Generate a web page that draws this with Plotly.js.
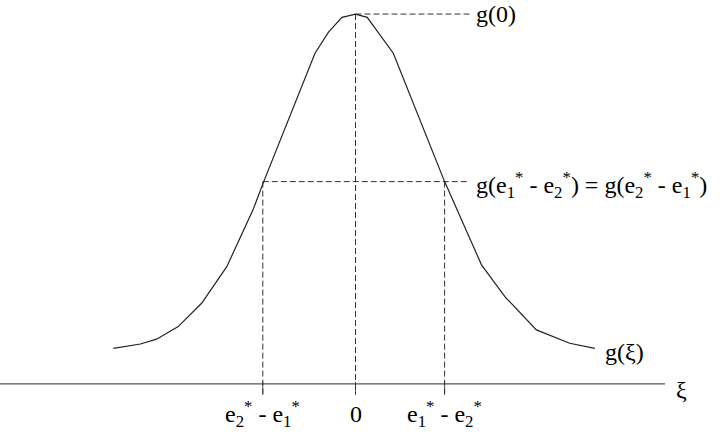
<!DOCTYPE html>
<html>
<head>
<meta charset="utf-8">
<script src="https://cdn.plot.ly/plotly-3.0.1.min.js"></script>
<style>html,body{margin:0;padding:0;background:#fff;}#chart{width:720px;height:442px;}</style>
</head>
<body>
<div id="chart"></div>
<script>
// Curve g(xi) vertices (xi in units of e1*-e2*, g scaled so g(0)=1)
var xi = [-2.69, -2.39, -2.21, -1.97, -1.71, -1.43, -1.14, -1.02, -0.45, -0.30, -0.15, 0.00, 0.13, 0.25, 0.42, 0.99, 1.40, 1.66, 2.01, 2.38, 2.66];
var g  = [0.096, 0.108, 0.121, 0.155, 0.218, 0.317, 0.470, 0.547, 0.894, 0.951, 0.991, 1.000, 0.991, 0.952, 0.894, 0.547, 0.322, 0.236, 0.146, 0.110, 0.096];

// Tick positions and labels on the xi axis
var tickVals = [-1.03, 0, 0.99];
var tickLabels = ["e<sub>2</sub><sup>*</sup> - e<sub>1</sub><sup>*</sup>", "0", "e<sub>1</sub><sup>*</sup> - e<sub>2</sub><sup>*</sup>"];

// Reference levels
var gPeak = 1.0;
var gCross = 0.547;
var guideEnd = 1.27;

// Curve and axis labels
var peakLabel = "g(0)";
var crossLabel = "g(e<sub>1</sub><sup>*</sup> - e<sub>2</sub><sup>*</sup>) = g(e<sub>2</sub><sup>*</sup> - e<sub>1</sub><sup>*</sup>)";
var curveLabel = "g(\u03BE)";
var axisLabel = "\u03BE";

var xRange = [-3.95, 4.05];
var yRange = [-0.157, 1.038];
var axisEnd = 3.44;
var below = -0.027;

var font = {family: "Liberation Serif, Times New Roman, serif", size: 24, color: "#000"};
var dash = {color: "#333", width: 1, dash: "6px,3px"};

var traces = [];
// axis line
traces.push({x: [xRange[0], axisEnd], y: [0, 0], mode: "lines", line: {color: "#555", width: 1.3}, hoverinfo: "skip"});
// tick marks
var tx = [], ty = [];
tickVals.forEach(function (v) { tx.push(v, v, null); ty.push(0.006, -0.03, null); });
traces.push({x: tx, y: ty, mode: "lines", line: {color: "#555", width: 1}, hoverinfo: "skip"});
// dashed guides
traces.push({x: [tickVals[1], tickVals[1]], y: [gPeak, below], mode: "lines", line: dash, hoverinfo: "skip"});
traces.push({x: [tickVals[0], tickVals[0]], y: [gCross, below], mode: "lines", line: dash, hoverinfo: "skip"});
traces.push({x: [tickVals[2], tickVals[2]], y: [gCross, below], mode: "lines", line: dash, hoverinfo: "skip"});
traces.push({x: [tickVals[1], guideEnd], y: [gPeak, gPeak], mode: "lines", line: dash, hoverinfo: "skip"});
traces.push({x: [tickVals[0], guideEnd], y: [gCross, gCross], mode: "lines", line: dash, hoverinfo: "skip"});
// curve
traces.push({x: xi, y: g, mode: "lines", line: {color: "#222", width: 1.2}, hoverinfo: "skip"});

var annotations = [
  {x: 1.32, y: 1.0, text: peakLabel, xanchor: "left", yanchor: "middle"},
  {x: 1.32, y: 0.538, text: crossLabel, xanchor: "left", yanchor: "middle"},
  {x: 2.75, y: 0.086, text: curveLabel, xanchor: "left", yanchor: "middle"},
  {x: 3.62, y: -0.016, text: axisLabel, xanchor: "center", yanchor: "middle"}
];
tickVals.forEach(function (v, i) {
  annotations.push({x: v, y: -0.081, text: tickLabels[i], xanchor: "center", yanchor: "middle"});
});
annotations.forEach(function (a) { a.xref = "x"; a.yref = "y"; a.showarrow = false; a.font = font; });

var layout = {
  width: 720, height: 442,
  margin: {l: 0, r: 0, t: 0, b: 0},
  paper_bgcolor: "#fff", plot_bgcolor: "#fff",
  font: {family: "Liberation Serif, Times New Roman, serif"},
  showlegend: false,
  xaxis: {range: xRange, visible: false, fixedrange: true},
  yaxis: {range: yRange, visible: false, fixedrange: true},
  annotations: annotations
};

Plotly.newPlot("chart", traces, layout, {staticPlot: true, displayModeBar: false});
</script>
</body>
</html>
